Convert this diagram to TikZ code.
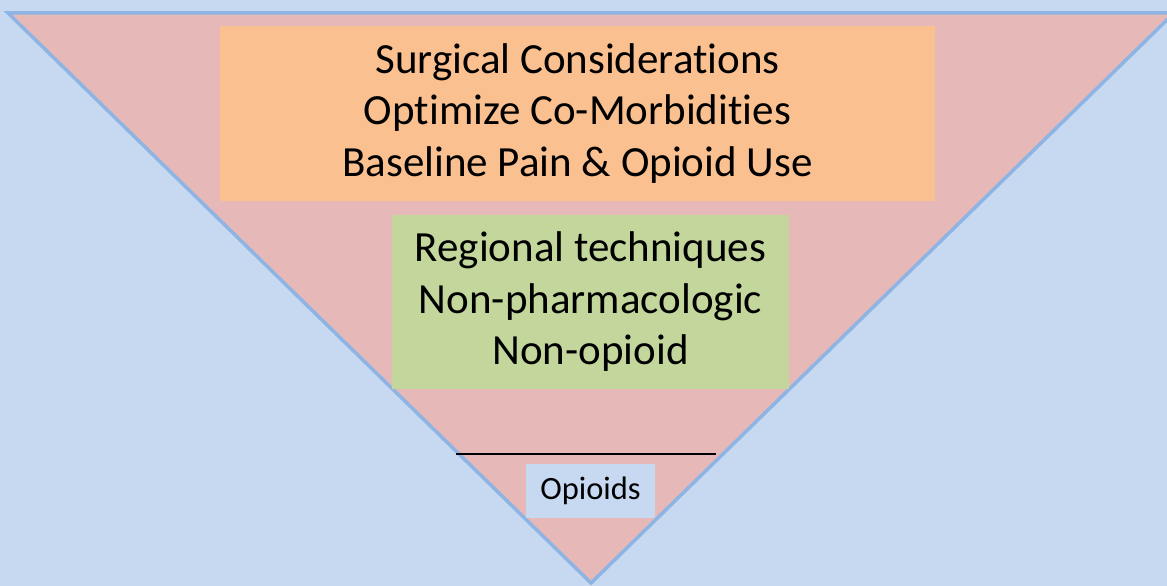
\documentclass[tikz,border=0pt]{standalone}
\usepackage{fontspec}
\setmainfont[Ligatures=NoCommon]{Carlito}
\definecolor{skyback}{HTML}{C6D9F1}
\definecolor{funnelfill}{HTML}{E6B9B8}
\definecolor{funneledge}{HTML}{8EB4E3}
\definecolor{prepfill}{HTML}{FAC090}
\definecolor{multifill}{HTML}{C3D69B}
\tikzset{
  tierbox/.style={rectangle, inner sep=0pt, align=center, text=black,
    font=\fontsize{43}{51.5}\selectfont},
  smallbox/.style={rectangle, inner sep=0pt, align=center, text=black,
    font=\fontsize{32.5}{38}\selectfont},
}
\begin{document}
\begin{tikzpicture}[x=1pt,y=-1pt]
  % page background
  \fill[skyback] (0,0) rectangle (1167,586);
  \useasboundingbox (0,0) rectangle (1167,586);
  % inverted pyramid
  \filldraw[fill=funnelfill, draw=funneledge, line width=3.5pt, line join=miter]
    (8,13) -- (1174,13) -- (591,583) -- cycle;
  % tiers
  \node[tierbox, fill=prepfill, minimum width=715, minimum height=175] (prep)
    at (577.5,113.5) {Surgical Considerations\\Optimize Co-Morbidities\\Baseline Pain \& Opioid Use};
  \node[tierbox, fill=multifill, minimum width=397, minimum height=174] (multi)
    at (590.5,302) {Regional techniques\\Non-pharmacologic\\Non-opioid};
  % threshold line
  \coordinate (cutL) at (456,454);
  \coordinate (cutR) at (716,454);
  \draw[black, line width=2.5pt] (cutL) -- (cutR);
  \node[smallbox, fill=skyback, minimum width=129, minimum height=54] (opioids)
    at (590.5,491) {Opioids};
\end{tikzpicture}
\end{document}
